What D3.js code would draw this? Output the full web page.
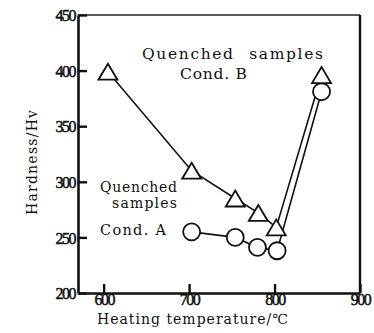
<!DOCTYPE html>
<html>
<head>
<meta charset="utf-8">
<script src="https://cdn.jsdelivr.net/npm/d3@7"></script>
<style>
  body { margin: 0; background: #fff; }
  svg { display: block; }
  text { font-family: "DejaVu Serif", serif; fill: #111; }
</style>
</head>
<body>
<svg id="chart" width="374" height="333"></svg>
<script>
// Cond. B (triangles) and Cond. A (circles)
const tempB = [605, 703, 754, 781, 802, 855];
const hardB = [399, 310, 285, 272, 259, 396];
const tempA = [703, 754, 780, 803, 855];
const hardA = [255, 250, 241, 238, 381];

const xTicks = [600, 700, 800, 900];
const yTicks = [200, 250, 300, 350, 400, 450];

const svg = d3.select('#chart');
const margin = { top: 15, right: 14, bottom: 40, left: 78 };
const W = 374, H = 333;

const x = d3.scaleLinear().domain([570, 900]).range([margin.left, W - margin.right]);
const y = d3.scaleLinear().domain([200, 450]).range([H - margin.bottom, margin.top]);

// frame
svg.append('line')
  .attr('x1', x(570)).attr('x2', x(900)).attr('y1', y(450)).attr('y2', y(450))
  .attr('stroke', '#222').attr('stroke-width', 1.6);
svg.append('line')
  .attr('x1', x(900)).attr('x2', x(900)).attr('y1', y(450)).attr('y2', y(200))
  .attr('stroke', '#111').attr('stroke-width', 2.4);

// axes with inward ticks
const yAxis = svg.append('g')
  .attr('transform', `translate(${margin.left},0)`)
  .call(d3.axisRight(y).tickValues(yTicks).tickSize(9).tickSizeOuter(0).tickFormat(d3.format('d')));
yAxis.select('.domain').attr('stroke', '#111').attr('stroke-width', 2.6);
yAxis.selectAll('.tick line').attr('stroke', '#111').attr('stroke-width', 2.4);
yAxis.selectAll('.tick text')
  .attr('x', -3).attr('text-anchor', 'end').attr('dy', '0.35em');

const xAxis = svg.append('g')
  .attr('transform', `translate(0,${H - margin.bottom})`)
  .call(d3.axisTop(x).tickValues(xTicks).tickSize(9).tickSizeOuter(0).tickFormat(d3.format('d')));
xAxis.select('.domain').attr('stroke', '#111').attr('stroke-width', 2.6);
xAxis.selectAll('.tick line').attr('stroke', '#111').attr('stroke-width', 2.4);
xAxis.selectAll('.tick text').attr('y', 12).attr('dy', 0);

svg.selectAll('.tick text')
  .style('font-family', '"Liberation Serif", serif')
  .style('font-size', '16px').style('letter-spacing', '-1.5px')
  .attr('stroke', '#111').attr('stroke-width', 0.5);

// axis titles
svg.append('text')
  .attr('x', 97).attr('y', 324)
  .attr('textLength', 191).attr('lengthAdjust', 'spacing')
  .style('font-size', '14px')
  .text('Heating temperature/℃');

svg.append('text')
  .attr('transform', 'translate(37,215) rotate(-90)')
  .attr('textLength', 105).attr('lengthAdjust', 'spacing')
  .style('font-size', '14px')
  .text('Hardness/Hv');

// lines
const line = d3.line().x(d => x(d[0])).y(d => y(d[1]));
const ptsB = tempB.map((t, i) => [t, hardB[i]]);
const ptsA = tempA.map((t, i) => [t, hardA[i]]);

svg.append('path').datum(ptsB).attr('d', line)
  .attr('fill', 'none').attr('stroke', '#111').attr('stroke-width', 1.6);
svg.append('path').datum(ptsA).attr('d', line)
  .attr('fill', 'none').attr('stroke', '#111').attr('stroke-width', 1.6);

// markers
svg.selectAll('circle.a').data(ptsA).join('circle')
  .attr('class', 'a')
  .attr('cx', d => x(d[0])).attr('cy', d => y(d[1])).attr('r', 8.5)
  .attr('fill', '#fff').attr('stroke', '#111').attr('stroke-width', 1.8);

svg.selectAll('path.b').data(ptsB).join('path')
  .attr('class', 'b')
  .attr('transform', d => `translate(${x(d[0])},${y(d[1])})`)
  .attr('d', 'M0,-8 L9.5,8 L-9.5,8 Z')
  .attr('fill', '#fff').attr('stroke', '#111').attr('stroke-width', 1.8)
  .attr('stroke-linejoin', 'miter');

// annotations
svg.append('text').attr('x', 142).attr('y', 59)
  .style('font-size', '15.5px').style('word-spacing', '8px')
  .attr('textLength', 181).attr('lengthAdjust', 'spacing')
  .text('Quenched samples');
svg.append('text').attr('x', 180).attr('y', 79)
  .attr('textLength', 67).attr('lengthAdjust', 'spacing')
  .style('font-size', '15.5px').text('Cond. B');

svg.append('text').attr('x', 100).attr('y', 192)
  .attr('textLength', 77).attr('lengthAdjust', 'spacing')
  .style('font-size', '14px').text('Quenched');
svg.append('text').attr('x', 112).attr('y', 208)
  .attr('textLength', 65).attr('lengthAdjust', 'spacing')
  .style('font-size', '14px').text('samples');
svg.append('text').attr('x', 100).attr('y', 235)
  .attr('textLength', 66).attr('lengthAdjust', 'spacing')
  .style('font-size', '14.5px').text('Cond. A');
</script>
</body>
</html>
